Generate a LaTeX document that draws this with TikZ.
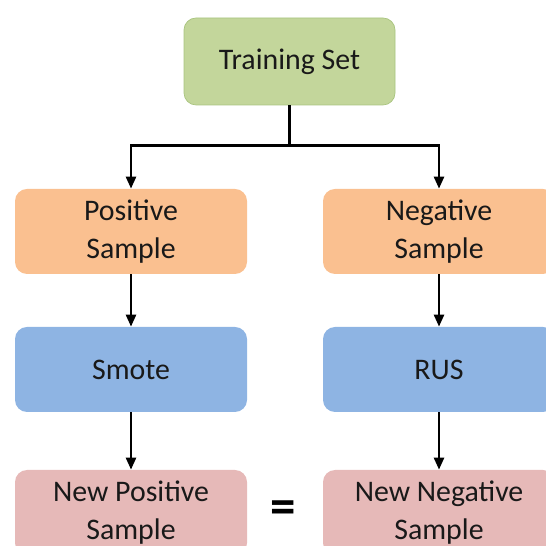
\documentclass[tikz,border=0pt]{standalone}
\usepackage{fontspec}
\setmainfont{Carlito}
\usepackage{tikz}
\usetikzlibrary{calc,arrows.meta}
\usepackage{xcolor}
\definecolor{trgreen}{HTML}{C3D69B}
\definecolor{trgreenline}{HTML}{A9C47F}
\definecolor{samporange}{HTML}{FAC090}
\definecolor{methblue}{HTML}{8EB4E3}
\definecolor{newpink}{HTML}{E6B9B8}
\newcommand{\boxw}{4.64}
\newcommand{\boxh}{1.70}
\tikzset{sbox/.style={rounded corners=0.24cm, minimum width=\boxw cm, minimum height=\boxh cm, align=center, font=\fontsize{17}{22}\selectfont, text=black!90, inner sep=0pt}}
\tikzset{arr/.style={-{Triangle[length=0.24cm,width=0.2cm]}, line width=0.05cm}}

\begin{document}
\begin{tikzpicture}
	\useasboundingbox (0,0) rectangle (10.92,10.92);
	\clip (0,0) rectangle (10.92,10.92);
	
	\node[sbox,fill=trgreen,draw=trgreenline,minimum width=4.22cm,minimum height=1.74cm] (train) at (5.79,9.69) {Training Set};
	
	\node[sbox,fill=samporange] (pos) at (2.62,6.29) {Positive\\Sample};
	\node[sbox,fill=samporange] (neg) at (8.78,6.29) {Negative\\Sample};
	
	\node[sbox,fill=methblue] (smote) at (2.62,3.53) {Smote};
	\node[sbox,fill=methblue] (rus) at (8.78,3.53) {RUS};
	
	\node[sbox,fill=newpink] (newpos) at (2.62,0.67) {New Positive\\Sample};
	\node[sbox,fill=newpink] (newneg) at (8.78,0.67) {New Negative\\Sample};
	
	\node[font=\fontsize{29}{29}\bfseries\selectfont] (eq) at (5.66,0.68) {=};
	
	\coordinate (junc) at ($(train.south)+(0,-0.80)$);
	\draw[line width=0.05cm] (train.south) -- (junc);
	\draw[arr] (junc) -| (pos.north);
	\draw[arr] (junc) -| (neg.north);
	
	\draw[arr] (pos) -- (smote);
	\draw[arr] (neg) -- (rus);
	\draw[arr] (smote) -- (newpos);
	\draw[arr] (rus) -- (newneg);
\end{tikzpicture}
\end{document}
